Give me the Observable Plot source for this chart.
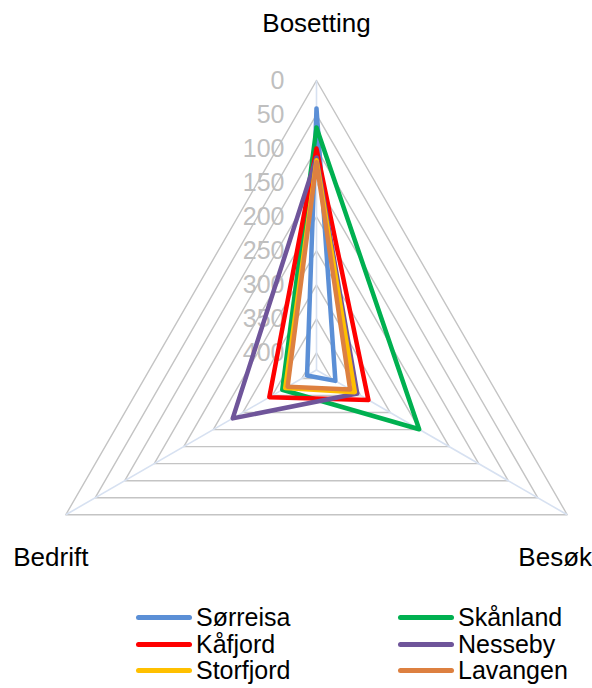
<!DOCTYPE html>
<html><head><meta charset="utf-8">
<script src="https://cdn.jsdelivr.net/npm/d3@7"></script>
<script src="https://cdn.jsdelivr.net/npm/@observablehq/plot@0.6"></script>
<style>
body{margin:0;background:#fff;font-family:"Liberation Sans",Arial,sans-serif;}
#wrap{position:relative;width:592px;height:688px;overflow:hidden;background:#fff;}
#wrap svg{position:absolute;left:0;top:0;font-family:"Liberation Sans",Arial,sans-serif;}
.leg{position:absolute;display:flex;align-items:center;height:28px;font-size:25px;line-height:28px;color:#000;white-space:nowrap;}
.sw{display:inline-block;width:56px;height:5px;border-radius:3px;margin-right:4px;}
</style></head><body><div id="wrap"></div>
<script>
// ---- data ----
const axes = ["Bosetting", "Besøk", "Bedrift"];
const series = ["Sørreisa", "Skånland", "Kåfjord", "Nesseby", "Storfjord", "Lavangen"];
const colors = ["#5b8fd6", "#00b050", "#ff0000", "#6f559a", "#ffc000", "#dd8040"];
const bosetting = [41, 69, 100, 113, 117, 120];
const besok = [393, 251, 337, 356, 360, 368];
const bedrift = [409, 367, 345, 283, 372, 376];
const ticks = [0, 50, 100, 150, 200, 250, 300, 350, 400];
const vmax = 425;

// ---- geometry (scale units = pixels, origin at radar centre) ----
const R = 289.5;
const W = 592, H = 600, CX = 316, CY = 369.5;
const rad = d3.scaleLinear().domain([0, vmax]).range([R, 0]);
const angles = [0, 120, 240].map(a => a * Math.PI / 180);
const px = (v, i) => rad(v) * Math.sin(angles[i]);
const py = (v, i) => rad(v) * Math.cos(angles[i]);

const valuesBy = [bosetting, besok, bedrift];
const seriesPts = [];
series.forEach((s, k) => {
  [0, 1, 2, 0].forEach(i => {
    const v = valuesBy[i][k];
    seriesPts.push({series: s, x: px(v, i), y: py(v, i)});
  });
});

const gridPts = [];
ticks.forEach(t => {
  [0, 1, 2, 0].forEach(i => gridPts.push({tick: t, x: px(t, i), y: py(t, i)}));
});

const spokes = axes.map((a, i) => ({axis: a, x1: px(vmax, i), y1: py(vmax, i), x2: px(0, i), y2: py(0, i)}));
const labelPts = axes.map((a, i) => ({axis: a, x: px(0, i), y: py(0, i)}));

const labelText = (i, dx, dy) => Plot.text(labelPts.filter((d, j) => j === i), {
  x: "x", y: "y", text: "axis", dx, dy, fontSize: 26, fill: "#000", textAnchor: "middle"
});

const chart = Plot.plot({
  width: W, height: H,
  marginTop: 0, marginRight: 0, marginBottom: 0, marginLeft: 0,
  x: {domain: [-CX, W - CX], axis: null},
  y: {domain: [-(H - CY), CY], axis: null},
  color: {domain: series, range: colors},
  style: {fontFamily: "'Liberation Sans', Arial, sans-serif", background: "transparent"},
  marks: [
    Plot.line(gridPts, {x: "x", y: "y", z: "tick", stroke: "#c4c4c4", strokeWidth: 1.4}),
    Plot.link(spokes, {x1: "x1", y1: "y1", x2: "x2", y2: "y2", stroke: "#d7e1f1", strokeWidth: 1.6}),
    Plot.text(ticks, {x: d => px(d, 0), y: d => py(d, 0), text: d => String(d), textAnchor: "end", dx: -32, fill: "#bfbfbf", fontSize: 25}),
    Plot.line(seriesPts, {x: "x", y: "y", z: "series", stroke: "series", strokeWidth: 4.5, strokeLinejoin: "round", strokeLinecap: "round"}),
    labelText(0, 0, -57),
    labelText(1, -12, 43),
    labelText(2, -15, 43)
  ]
});
const wrap = document.getElementById("wrap");
wrap.appendChild(chart);

// ---- legend (HTML, below the radar) ----
const legCols = [136, 398];
const legRows = [617, 644, 670];
series.forEach((s, k) => {
  const col = k % 2, row = Math.floor(k / 2);
  const el = document.createElement("div");
  el.className = "leg";
  el.style.left = legCols[col] + "px";
  el.style.top = (legRows[row] - 14) + "px";
  const sw = document.createElement("span");
  sw.className = "sw";
  sw.style.background = colors[k];
  el.appendChild(sw);
  el.appendChild(document.createTextNode(s));
  wrap.appendChild(el);
});
</script></body></html>
